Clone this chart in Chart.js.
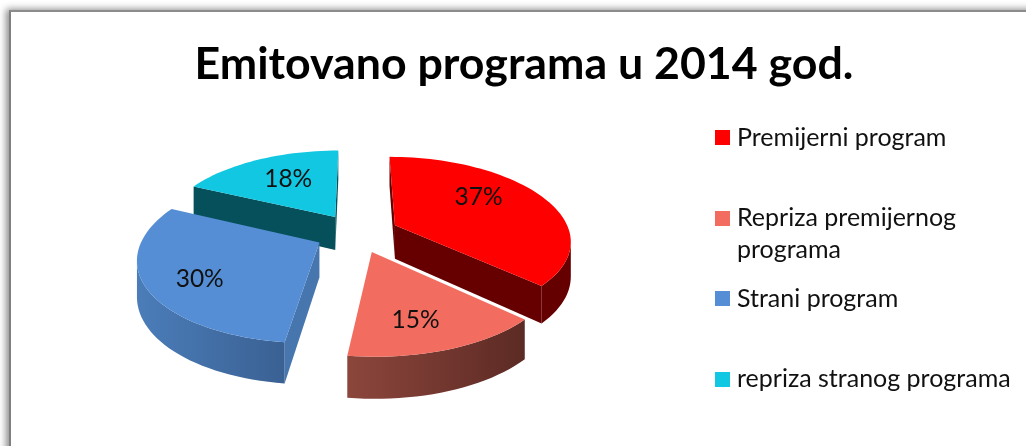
<!DOCTYPE html>
<html>
<head>
<meta charset="utf-8">
<script src="https://cdn.jsdelivr.net/npm/chart.js@4"></script>
<style>
  html, body { margin: 0; background: #fff; overflow: hidden; }
  #frame {
    position: absolute; left: 9px; top: 10px; width: 1100px; height: 500px;
    border-top: 2px solid #8c8c8c; border-left: 2px solid #808080;
    box-shadow: -3px -1px 7px rgba(0,0,0,.45); background: #fff;
  }
  #wrap { position: absolute; left: 0; top: 0; width: 1026px; height: 446px; }
</style>
</head>
<body>
<div id="frame"></div>
<div id="wrap"><canvas id="pie"></canvas></div>
<script>
const chartTitle = 'Emitovano programa u 2014 god.';
const categories = [
  ['Premijerni program'],
  ['Repriza premijernog', 'programa'],
  ['Strani program'],
  ['repriza stranog programa']
];
const shares = [37, 15, 30, 18];
const explodeOffset = [24, 24, 24, 24];

const topColors = ['#ff0000', '#f36c60', '#558ed5', '#12c7e2'];
const cutColors = ['#660000', '#612c25', '#4776ae', '#05505a'];
const rimLeftColors = ['#5c0000', '#8c463c', '#4b7db9', '#05505a'];
const rimRightColors = ['#660000', '#5c2a24', '#365a8a', '#05505a'];

// drawing order, back to front
const paintOrder = [3, 0, 2, 1];

// where the percent text sits inside its slice
const labelDistance = [0.65, 0.72, 0.73, 0.62];
const labelTurn = [-12, 3.6, -4.6, 2];

// the flat pie seen in perspective
const view = { cx: 357, cy: 233, a: 175, b: 81.5, kx: 0.17, ky: 0.157, depth: 34 };

function project(u, v) {
  const s = 1 / (1 + view.ky * v);
  return {
    x: view.cx + view.a * u / (1 + view.kx * v),
    y: view.cy - view.b * v * s,
    d: view.depth * s
  };
}

function ground(el, angle, r) {
  const mid = (el.startAngle + el.endAngle) / 2;
  const off = el.options.offset / el.outerRadius;
  return { u: off * Math.cos(mid) + r * Math.cos(angle), v: -off * Math.sin(mid) - r * Math.sin(angle) };
}

function outline(el) {
  const pts = [];
  const c = ground(el, el.startAngle, 0);
  pts.push(project(c.u, c.v));
  const steps = Math.ceil((el.endAngle - el.startAngle) / 0.04);
  for (let i = 0; i <= steps; i++) {
    const a = el.startAngle + (el.endAngle - el.startAngle) * i / steps;
    const g = ground(el, a, 1);
    pts.push(project(g.u, g.v));
  }
  return pts;
}

// wall under a run of top edge points
function fillWall(ctx, run, style) {
  ctx.fillStyle = style;
  ctx.beginPath();
  run.forEach((p, n) => n ? ctx.lineTo(p.x, p.y) : ctx.moveTo(p.x, p.y));
  run.slice().reverse().forEach(p => ctx.lineTo(p.x, p.y + p.d));
  ctx.closePath();
  ctx.fill();
}

const pie3d = {
  id: 'pie3d',
  beforeDatasetsDraw(chart) {
    const ctx = chart.ctx;
    const arcs = chart.getDatasetMeta(0).data;
    ctx.save();
    paintOrder.forEach(i => {
      const pts = outline(arcs[i]);
      const xs = pts.map(p => p.x);
      const grad = ctx.createLinearGradient(Math.min(...xs), 0, Math.max(...xs), 0);
      grad.addColorStop(0, rimLeftColors[i]);
      grad.addColorStop(1, rimRightColors[i]);

      // side walls, only those turned to the viewer
      const last = pts.length - 1;
      if (pts[1].x < pts[0].x) fillWall(ctx, [pts[0], pts[1]], cutColors[i]);
      if (pts[0].x < pts[last].x) fillWall(ctx, [pts[last], pts[0]], cutColors[i]);
      let run = [];
      for (let n = 1; n <= last; n++) {
        const facing = n < last && pts[n + 1].x < pts[n].x;
        if (facing || (run.length && pts[n].x < run[run.length - 1].x)) run.push(pts[n]);
        if (!facing && run.length) {
          fillWall(ctx, run, grad);
          run = [];
        }
      }

      ctx.fillStyle = topColors[i];
      ctx.beginPath();
      pts.forEach((p, n) => n ? ctx.lineTo(p.x, p.y) : ctx.moveTo(p.x, p.y));
      ctx.closePath();
      ctx.fill();
    });
    // percent labels
    ctx.fillStyle = '#111';
    ctx.font = '24.5px Lato';
    ctx.textAlign = 'center';
    ctx.textBaseline = 'middle';
    arcs.forEach((el, i) => {
      const mid = (el.startAngle + el.endAngle) / 2 + labelTurn[i] * Math.PI / 180;
      const g = ground(el, mid, labelDistance[i]);
      const p = project(g.u, g.v);
      ctx.fillText(shares[i] + '%', p.x, p.y);
    });
    ctx.restore();
    return false;
  }
};

// legend: evenly spaced squares, second line of a label hangs under the first
const sideLegend = {
  id: 'sideLegend',
  afterDraw(chart) {
    const ctx = chart.ctx;
    ctx.save();
    ctx.font = '25px Lato';
    ctx.textBaseline = 'middle';
    categories.forEach((lines, i) => {
      const y = 137.5 + i * 80.6;
      ctx.fillStyle = topColors[i];
      ctx.fillRect(715, Math.round(y - 7.5), 15, 15);
      ctx.fillStyle = '#111';
      lines.forEach((line, n) => ctx.fillText(line, 737, y + n * 32));
    });
    ctx.restore();
  }
};

new Chart(document.getElementById('pie'), {
  type: 'pie',
  data: {
    labels: categories.map(l => l.join(' ')),
    datasets: [{
      data: shares,
      backgroundColor: topColors,
      offset: explodeOffset,
      borderWidth: 0
    }]
  },
  options: {
    responsive: true,
    maintainAspectRatio: false,
    animation: false,
    radius: 100,
    layout: { padding: { left: 22 } },
    plugins: {
      legend: { display: false },
      tooltip: { enabled: false },
      title: {
        display: true,
        text: chartTitle,
        color: '#000',
        font: { family: 'Lato', size: 44.7, weight: 'bold' },
        padding: { top: 38, bottom: 10 }
      }
    }
  },
  plugins: [pie3d, sideLegend]
});
</script>
</body>
</html>
